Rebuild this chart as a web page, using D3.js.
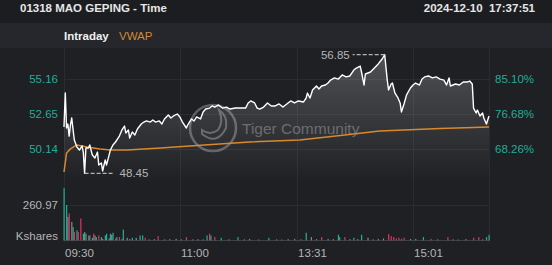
<!DOCTYPE html>
<html>
<head>
<meta charset="utf-8">
<script src="https://cdn.jsdelivr.net/npm/d3@7"></script>
<style>
  body { margin: 0; background: #1f2024; }
  svg { display: block; font-family: "Liberation Sans", Arial, sans-serif; }
</style>
</head>
<body>
<div id="chart"></div>
<script>
// Chart size
var svgWidth = 552;
var svgHeight = 265;

// Data (minute index since 09:30, lunch removed: 0..330)
var priceMinutes = [0,1,2,3,4,5,6,8,10,12,14,15,16,17,19,20,22,24,26,27,29,30,32,33,36,38,40,42,43,45,47,48,50,51,53,55,57,60,62,64,67,69,71,74,76,78,81,83,85,88,90,92,95,96,99,101,103,106,108,110,113,115,117,120,123,126,129,133,137,141,143,145,148,150,152,155,158,161,164,167,170,173,176,179,182,186,188,189,191,193,196,198,200,203,205,207,210,213,216,219,222,225,227,230,231,233,234,238,241,244,247,249,251,252,254,255,257,259,261,262,264,266,269,271,273,276,278,280,283,286,289,292,295,297,299,300,304,307,310,313,315,317,318,320,321,323,325,326,328,330];
var prices = [51.73,54.13,51.66,51.94,51.09,51.87,52.37,50.81,50.32,50.10,50.39,49.96,48.45,50.25,50.25,50.46,49.75,49.54,49.96,49.04,49.19,48.62,49.40,49.04,50.10,50.46,50.67,50.95,51.09,51.52,51.80,51.31,51.52,50.95,51.38,51.17,51.59,51.94,52.08,52.16,52.08,52.23,52.08,52.16,51.94,52.30,52.58,52.37,52.51,52.65,52.44,52.08,51.66,51.87,52.30,52.16,52.44,52.30,52.79,53.00,53.07,53.22,53.14,53.29,53.07,53.14,53.00,53.07,53.07,53.07,53.43,53.57,53.43,53.07,53.00,53.14,53.43,53.22,53.22,53.36,53.14,53.36,53.57,53.43,53.57,53.50,53.78,54.13,53.78,54.35,54.63,54.42,54.63,54.70,54.84,55.05,55.20,55.12,55.41,55.27,55.34,55.76,55.90,56.04,55.62,54.70,55.48,55.62,55.90,56.19,56.54,56.85,55.05,54.35,54.77,54.84,54.13,53.85,53.43,52.79,53.36,54.00,54.49,54.70,54.84,54.70,55.12,55.27,55.34,55.20,55.27,55.12,55.05,54.70,55.20,54.63,54.77,54.70,54.91,54.91,54.98,54.77,53.07,52.72,52.93,52.51,52.72,52.37,51.94,52.51];

var vwapMinutes = [0,2,5,10,18,28,36,49,75,109,144,183,218,245,292,330];
var vwap = [48.55,49.89,50.18,50.46,50.32,50.18,50.10,50.10,50.25,50.46,50.67,50.81,51.17,51.45,51.62,51.73];

// Volume bars (Kshares): minute, volume, direction (1 up, -1 down, 0 flat)
var volMinutes = [0,2,3,4,6,7,8,10,11,13,15,16,17,19,20,22,23,24,25,27,29,30,32,33,35,36,37,38,40,41,43,45,46,49,51,53,56,59,61,63,66,70,73,78,82,87,91,95,100,104,108,111,113,114,117,122,128,135,140,144,151,159,165,169,174,179,184,188,192,196,200,205,209,213,214,218,222,225,228,231,236,240,244,248,252,254,256,258,260,262,264,269,273,279,285,290,298,302,306,312,318,322,325,328,330];
var volumes = [385,261,174,200,137,99,62,75,62,162,50,62,50,37,37,20,50,37,25,37,25,12,37,50,15,50,42,57,15,25,25,12,80,20,10,20,20,37,37,20,8,10,32,8,10,12,8,25,8,10,8,37,50,37,25,20,8,25,8,12,7,20,8,7,10,12,8,57,25,10,25,12,10,42,25,25,10,20,10,42,20,8,12,15,47,32,25,15,20,12,20,12,12,25,12,8,25,8,7,10,20,25,8,25,42];
var volDirs = [1,1,0,-1,0,1,-1,1,-1,-1,1,0,1,-1,1,1,-1,0,1,-1,1,0,1,1,0,1,0,1,-1,1,-1,1,1,0,0,1,0,1,1,-1,0,0,-1,0,1,0,0,-1,0,1,0,1,-1,1,-1,1,0,1,0,1,0,1,0,0,1,1,0,1,0,1,-1,1,0,1,1,-1,0,1,0,1,0,0,1,0,-1,-1,-1,-1,-1,-1,-1,1,1,1,-1,0,-1,0,1,0,-1,-1,0,1,1];

var priceTicks = [50.14, 52.65, 55.16];
var pctTicks = ["68.26%", "76.68%", "85.10%"];
var volTick = 260.97;
var timeTicks = [0, 90, 181, 271];
var timeLabels = ["09:30", "11:00", "13:31", "15:01"];

var priceHigh = 56.85, priceLow = 48.45;

// Layout
var left = 64, right = 489;
var xScale = d3.scaleLinear().domain([0, 330]).range([left, right]);
var yScale = d3.scaleLinear().domain([priceLow, priceHigh]).range([173.4, 54.6]);
var vScale = d3.scaleLinear().domain([0, volTick]).range([240.5, 205]);

var svg = d3.select("#chart").append("svg")
  .attr("width", svgWidth)
  .attr("height", svgHeight);

// Backgrounds
svg.append("rect").attr("width", svgWidth).attr("height", svgHeight).attr("fill", "#1f2024");
svg.append("rect").attr("width", svgWidth).attr("height", 23).attr("fill", "#1c1d20");
svg.append("rect").attr("y", 23).attr("width", svgWidth).attr("height", 25).attr("fill", "#25272d");

// Header text
svg.append("text").attr("x", 20).attr("y", 12).attr("fill", "#e6e6e6")
  .attr("font-size", 11.5).attr("font-weight", "bold").text("01318 MAO GEPING - Time");
svg.append("text").attr("x", 535).attr("y", 12).attr("fill", "#e6e6e6").attr("text-anchor", "end")
  .attr("font-size", 11.5).attr("font-weight", "bold").attr("xml:space", "preserve").text("2024-12-10  17:37:51");
svg.append("text").attr("x", 64).attr("y", 40).attr("fill", "#f0f0f0")
  .attr("font-size", 11.5).attr("font-weight", "bold").text("Intraday");
svg.append("text").attr("x", 119).attr("y", 40).attr("fill", "#d08a32")
  .attr("font-size", 11.5).text("VWAP");

// Grid
var grid = svg.append("g").attr("stroke", "#2b2c31").attr("stroke-width", 1);
[0].concat(timeTicks.slice(1), [330]).forEach(function (m) {
  var x = Math.round(xScale(m)) + 0.5;
  grid.append("line").attr("x1", x).attr("x2", x).attr("y1", 48).attr("y2", 243);
});
priceTicks.forEach(function (p) {
  var y = Math.round(yScale(p)) + 0.5;
  grid.append("line").attr("x1", left).attr("x2", right).attr("y1", y).attr("y2", y);
});
grid.append("line").attr("x1", left).attr("x2", right)
  .attr("y1", Math.round(vScale(volTick)) + 0.5).attr("y2", Math.round(vScale(volTick)) + 0.5);

// Watermark
var wm = svg.append("g").attr("opacity", 0.35);
wm.append("circle").attr("cx", 213).attr("cy", 128).attr("r", 23)
  .attr("fill", "none").attr("stroke", "#cfcfcf").attr("stroke-width", 2.5);
wm.append("path").attr("d", "M202,134 Q217,146 226,128 Q228,116 219,110 Q224,122 218,130 Q210,136 202,130 Z")
  .attr("fill", "none").attr("stroke", "#cfcfcf").attr("stroke-width", 2);
wm.append("text").attr("x", 242).attr("y", 134).attr("fill", "#cfcfcf")
  .attr("font-size", 15.5).text("Tiger Community");

// Area fill under price
var defs = svg.append("defs");
var grad = defs.append("linearGradient").attr("id", "fillGrad")
  .attr("x1", 0).attr("x2", 0).attr("y1", 0).attr("y2", 1);
grad.append("stop").attr("offset", "0%").attr("stop-color", "#ffffff").attr("stop-opacity", 0.22);
grad.append("stop").attr("offset", "100%").attr("stop-color", "#ffffff").attr("stop-opacity", 0.0);

var priceData = priceMinutes.map(function (m, i) { return { m: m, p: prices[i] }; });
var area = d3.area()
  .x(function (d) { return xScale(d.m); })
  .y0(182)
  .y1(function (d) { return yScale(d.p); });
svg.append("path").datum(priceData).attr("d", area).attr("fill", "url(#fillGrad)");

// Volume bars
var volData = volMinutes.map(function (m, i) { return { m: m, v: volumes[i], dir: volDirs[i] }; });
svg.append("g").selectAll("rect")
  .data(volData)
  .enter()
  .append("rect")
  .attr("x", function (d) { return xScale(d.m) - 0.5; })
  .attr("width", 1.2)
  .attr("y", function (d) { return vScale(d.v); })
  .attr("height", function (d) { return vScale(0) - vScale(d.v); })
  .attr("fill", function (d) { return d.dir > 0 ? "#20b195" : (d.dir < 0 ? "#dd3560" : "#8a8a8e"); });
svg.append("line").attr("x1", left).attr("x2", right).attr("y1", 240.5).attr("y2", 240.5)
  .attr("stroke", "#55565a").attr("stroke-width", 0.6);

// VWAP line
var vwapData = vwapMinutes.map(function (m, i) { return { m: m, p: vwap[i] }; });
var line = d3.line()
  .x(function (d) { return xScale(d.m); })
  .y(function (d) { return yScale(d.p); });
svg.append("path").datum(vwapData).attr("d", line)
  .attr("fill", "none").attr("stroke", "#d8892c").attr("stroke-width", 1.5);

// Price line
svg.append("path").datum(priceData).attr("d", line)
  .attr("fill", "none").attr("stroke", "#ffffff").attr("stroke-width", 1.4).attr("stroke-linejoin", "round");

// High / low markers
var hiIdx = prices.indexOf(priceHigh), loIdx = prices.indexOf(priceLow);
var hx = xScale(priceMinutes[hiIdx]), hy = yScale(priceHigh);
svg.append("line").attr("x1", hx).attr("x2", hx - 32).attr("y1", hy).attr("y2", hy)
  .attr("stroke", "#b5b5b5").attr("stroke-width", 1.3).attr("stroke-dasharray", "4,2");
svg.append("text").attr("x", hx - 35).attr("y", hy + 4).attr("text-anchor", "end")
  .attr("fill", "#b5b5b5").attr("font-size", 11.5).text(priceHigh.toFixed(2));
var lx = xScale(priceMinutes[loIdx]), ly = yScale(priceLow);
svg.append("line").attr("x1", lx).attr("x2", lx + 30).attr("y1", ly).attr("y2", ly)
  .attr("stroke", "#b5b5b5").attr("stroke-width", 1.3).attr("stroke-dasharray", "4,2");
svg.append("text").attr("x", lx + 35).attr("y", ly + 4)
  .attr("fill", "#b5b5b5").attr("font-size", 11.5).text(priceLow.toFixed(2));

// Axis labels
priceTicks.forEach(function (p, i) {
  svg.append("text").attr("x", 58).attr("y", yScale(p) + 4).attr("text-anchor", "end")
    .attr("fill", "#1fae97").attr("font-size", 11.5).text(p.toFixed(2));
  svg.append("text").attr("x", 495).attr("y", yScale(p) + 4)
    .attr("fill", "#1fae97").attr("font-size", 11.5).text(pctTicks[i]);
});
svg.append("text").attr("x", 58).attr("y", vScale(volTick) + 4).attr("text-anchor", "end")
  .attr("fill", "#b5b5b5").attr("font-size", 11.5).text(volTick.toFixed(2));
svg.append("text").attr("x", 58).attr("y", 240).attr("text-anchor", "end")
  .attr("fill", "#b5b5b5").attr("font-size", 11.5).text("Kshares");
timeTicks.forEach(function (m, i) {
  svg.append("text").attr("x", xScale(m) + 1).attr("y", 257)
    .attr("fill", "#b5b5b5").attr("font-size", 11.5).text(timeLabels[i]);
});
</script>
</body>
</html>
